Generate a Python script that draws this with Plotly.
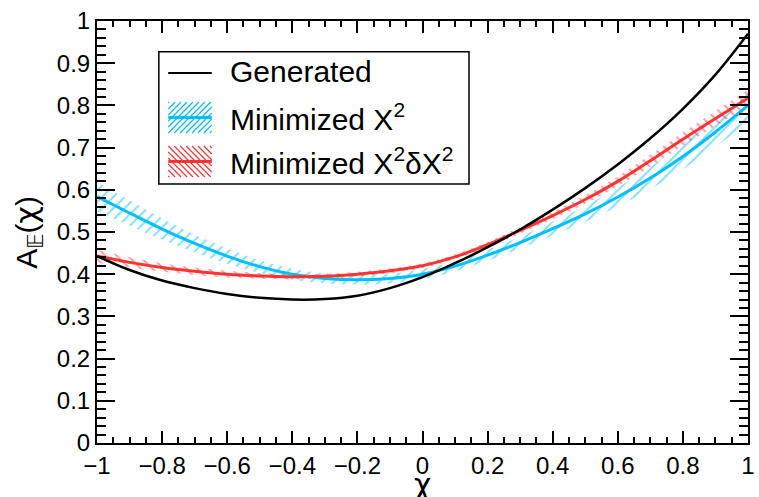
import plotly.graph_objects as go

# ---------------- data ----------------
chi = [-1.0, -0.9, -0.8, -0.7, -0.6, -0.5, -0.4, -0.3, -0.2, -0.1, 0.0,
       0.1, 0.2, 0.3, 0.4, 0.5, 0.6, 0.7, 0.8, 0.9, 1.0]

generated = [0.443, 0.410, 0.385, 0.367, 0.353, 0.344, 0.340, 0.341, 0.349, 0.367, 0.393,
             0.426, 0.464, 0.506, 0.553, 0.604, 0.660, 0.722, 0.792, 0.873, 0.970]

min_chi2 = [0.584, 0.545, 0.507, 0.473, 0.443, 0.418, 0.400, 0.390, 0.387, 0.390, 0.400,
            0.419, 0.445, 0.475, 0.508, 0.543, 0.583, 0.628, 0.679, 0.737, 0.800]
min_chi2_err = [0.035, 0.030, 0.025, 0.021, 0.018, 0.015, 0.013, 0.012, 0.012, 0.012, 0.012,
                0.012, 0.013, 0.014, 0.016, 0.019, 0.022, 0.026, 0.030, 0.035, 0.040]

min_dchi2 = [0.443, 0.428, 0.416, 0.407, 0.400, 0.396, 0.394, 0.395, 0.400, 0.408, 0.420,
             0.441, 0.470, 0.504, 0.539, 0.577, 0.620, 0.669, 0.720, 0.769, 0.817]
min_dchi2_err = [0.015, 0.012, 0.010, 0.009, 0.008, 0.007, 0.007, 0.006, 0.006, 0.006, 0.006,
                 0.006, 0.007, 0.008, 0.009, 0.010, 0.012, 0.014, 0.016, 0.018, 0.020]

legend_labels = ["Generated", "Minimized X<sup>2</sup>", "Minimized X<sup>2</sup>δX<sup>2</sup>"]

x_ticks = [-1.0, -0.8, -0.6, -0.4, -0.2, 0.0, 0.2, 0.4, 0.6, 0.8, 1.0]
y_ticks = [0.0, 0.1, 0.2, 0.3, 0.4, 0.5, 0.6, 0.7, 0.8, 0.9, 1.0]

BLACK = "black"
BLUE = "rgb(0,191,255)"
RED = "rgb(255,51,51)"

W, H = 759, 497
L, R, T, B = 97, 4, 21, 54
PW, PH = W - L - R, H - T - B


def px_x(px):
    return (px - L) / PW


def px_y(py):
    return (H - B - py) / PH


fig = go.Figure()


def add_band(y, err, color, shape):
    lo = [a - b for a, b in zip(y, err)]
    hi = [a + b for a, b in zip(y, err)]
    fig.add_trace(go.Scatter(x=chi, y=lo, mode="lines",
                             line=dict(width=0, shape="spline"),
                             showlegend=False, hoverinfo="skip"))
    fig.add_trace(go.Scatter(x=chi, y=hi, mode="lines",
                             line=dict(width=0, shape="spline"),
                             fill="tonexty",
                             fillpattern=dict(shape=shape, fgcolor=color,
                                              bgcolor="rgba(0,0,0,0)",
                                              size=8, solidity=0.25),
                             showlegend=False, hoverinfo="skip"))


add_band(min_chi2, min_chi2_err, BLUE, "/")
add_band(min_dchi2, min_dchi2_err, RED, "\\")

fig.add_trace(go.Scatter(x=chi, y=min_chi2, mode="lines", name=legend_labels[1],
                         line=dict(color=BLUE, width=3, shape="spline")))
fig.add_trace(go.Scatter(x=chi, y=min_dchi2, mode="lines", name=legend_labels[2],
                         line=dict(color=RED, width=3, shape="spline")))
fig.add_trace(go.Scatter(x=chi, y=generated, mode="lines", name=legend_labels[0],
                         line=dict(color=BLACK, width=2.5, shape="spline")))

# ---------------- hand-made legend (ROOT style) ----------------
shapes = []
annotations = []

box = dict(x0=159.5, x1=473, y0=51.7, y1=184)
shapes.append(dict(type="rect", xref="paper", yref="paper",
                   x0=px_x(box["x0"]), x1=px_x(box["x1"]),
                   y0=px_y(box["y1"]), y1=px_y(box["y0"]),
                   line=dict(color="black", width=1.5), fillcolor="white", layer="above"))


def hline(x0, x1, y, color, width):
    shapes.append(dict(type="line", xref="paper", yref="paper",
                       x0=px_x(x0), x1=px_x(x1), y0=px_y(y), y1=px_y(y),
                       line=dict(color=color, width=width), layer="above"))


def hatch(x0, x1, yt, yb, color, kind, step=6.0):
    if kind == "/":
        c = x0 + yt + 1.0
        while c < x1 + yb:
            xa = max(x0, c - yb)
            xb = min(x1, c - yt)
            if xa < xb:
                shapes.append(dict(type="line", xref="paper", yref="paper",
                                   x0=px_x(xa), y0=px_y(c - xa), x1=px_x(xb), y1=px_y(c - xb),
                                   line=dict(color=color, width=1.2), layer="above"))
            c += step
    else:
        c = x0 - yb + 1.0
        while c < x1 - yt:
            xa = max(x0, c + yt)
            xb = min(x1, c + yb)
            if xa < xb:
                shapes.append(dict(type="line", xref="paper", yref="paper",
                                   x0=px_x(xa), y0=px_y(xa - c), x1=px_x(xb), y1=px_y(xb - c),
                                   line=dict(color=color, width=1.2), layer="above"))
            c += step


sx0, sx1 = 169, 213
hline(sx0, sx1, 73, BLACK, 2)
hatch(sx0, sx1, 102, 133, BLUE, "/")
hline(sx0, sx1, 117.5, BLUE, 3)
hatch(sx0, sx1, 146, 177, RED, "\\")
hline(sx0, sx1, 161.5, RED, 3)

for lbl, yc in zip(legend_labels, [72, 117, 161]):
    annotations.append(dict(text=lbl, xref="paper", yref="paper",
                            x=px_x(229), y=px_y(yc), xanchor="left", yanchor="middle",
                            showarrow=False, font=dict(size=30, color="black")))

# axis titles
annotations.append(dict(text="χ", xref="paper", yref="paper", x=0.5, y=px_y(484),
                        xanchor="center", yanchor="middle", showarrow=False,
                        font=dict(size=30, color="black", family="DejaVu Sans")))
annotations.append(dict(text="A<sub>𝔼</sub>(<span style='font-family:DejaVu Sans'>χ</span>)",
                        xref="paper", yref="paper",
                        x=px_x(27), y=0.5, textangle=-90,
                        xanchor="center", yanchor="middle", showarrow=False,
                        font=dict(size=30, color="black")))

axis_common = dict(showline=True, linecolor="black", linewidth=2, mirror="ticks",
                   ticks="inside", tickcolor="black", tickwidth=1.5,
                   showgrid=False, zeroline=False, ticklabeloverflow="allow",
                   tickfont=dict(size=24, color="black"))

fig.update_layout(
    width=W, height=H,
    margin=dict(l=L, r=R, t=T, b=B),
    plot_bgcolor="white", paper_bgcolor="white",
    font=dict(family="Liberation Sans, Arial, DejaVu Sans", color="black"),
    showlegend=False,
    shapes=shapes, annotations=annotations,
    xaxis=dict(range=[-1, 1], tickmode="array", tickvals=x_ticks, ticklen=12,
               minor=dict(dtick=0.05, tick0=0, ticklen=6, tickwidth=1.5,
                          tickcolor="black", ticks="inside"),
               **axis_common),
    yaxis=dict(range=[0, 1], tickmode="array", tickvals=y_ticks, ticklen=18,
               minor=dict(dtick=0.02, tick0=0, ticklen=9, tickwidth=1.5,
                          tickcolor="black", ticks="inside"),
               **axis_common),
)

fig.write_html("out.html",
               config={"displayModeBar": False},
               post_script="document.body.style.margin='0px';"
                           "document.body.style.overflow='hidden';")
